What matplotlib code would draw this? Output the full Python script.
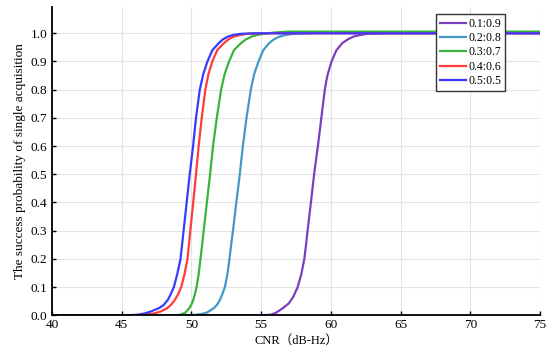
import numpy as np
import matplotlib
matplotlib.use("Agg")
import matplotlib.pyplot as plt

plt.rcParams['font.family'] = ['Liberation Serif', 'Noto Sans CJK SC']

# success probability curves (CNR in dB-Hz)
x_01 = [40, 55.0, 55.7, 56.1, 56.55, 56.98, 57.3, 57.62, 57.88, 58.1, 58.22, 58.33, 58.57, 58.8, 59.07, 59.32,
        59.44, 59.57, 59.67, 59.78, 60.05, 60.4, 60.82, 61.2, 61.6, 62.1, 62.6, 64, 75]
p_01 = [0, 0, 0.002, 0.01, 0.025, 0.042, 0.065, 0.1, 0.145, 0.2, 0.25, 0.3, 0.4, 0.5, 0.6, 0.7,
        0.75, 0.8, 0.83, 0.855, 0.9, 0.94, 0.965, 0.978, 0.988, 0.994, 0.998, 1.0, 1.0]

x_02 = [40, 49.5, 50.3, 50.75, 51.13, 51.6, 51.85, 52.04, 52.22, 52.4, 52.58, 52.73, 52.85, 52.98, 53.22, 53.47,
        53.69, 53.95, 54.26, 54.5, 54.81, 55.15, 55.57, 55.9, 56.3, 56.75, 57.3, 59, 75]
p_02 = [0, 0, 0.002, 0.005, 0.01, 0.025, 0.038, 0.054, 0.075, 0.1, 0.145, 0.2, 0.25, 0.3, 0.4, 0.5,
        0.6, 0.7, 0.8, 0.855, 0.9, 0.94, 0.965, 0.978, 0.988, 0.994, 0.998, 1.002, 1.002]

x_03 = [40, 48.8, 49.2, 49.58, 49.84, 50.0, 50.13, 50.25, 50.37, 50.52, 50.65, 50.77, 50.88, 51.11, 51.34,
        51.55, 51.82, 52.13, 52.38, 52.7, 53.05, 53.55, 53.9, 54.3, 54.7, 55.2, 56, 57, 75]
p_03 = [0, 0, 0.002, 0.01, 0.025, 0.038, 0.054, 0.075, 0.1, 0.145, 0.2, 0.25, 0.3, 0.4, 0.5,
        0.6, 0.7, 0.8, 0.855, 0.9, 0.94, 0.965, 0.978, 0.988, 0.994, 0.998, 1.003, 1.006, 1.006]

x_04 = [40, 46.2, 46.7, 47.25, 47.78, 48.26, 48.55, 48.81, 49.05, 49.27, 49.5, 49.72, 49.82, 49.92, 50.13,
        50.33, 50.52, 50.74, 51.0, 51.22, 51.5, 51.85, 52.33, 52.65, 53.0, 53.5, 54.0, 55.0, 75]
p_04 = [0, 0, 0.002, 0.006, 0.013, 0.025, 0.038, 0.054, 0.075, 0.1, 0.145, 0.2, 0.25, 0.3, 0.4,
        0.5, 0.6, 0.7, 0.8, 0.855, 0.9, 0.94, 0.965, 0.978, 0.988, 0.994, 0.998, 1.0, 1.0]

x_05 = [40, 45.5, 46.1, 46.6, 47.06, 47.66, 48.0, 48.3, 48.52, 48.74, 48.98, 49.22, 49.33, 49.44, 49.66,
        49.88, 50.12, 50.33, 50.6, 50.85, 51.15, 51.5, 51.96, 52.25, 52.6, 53.0, 53.5, 54.5, 75]
p_05 = [0, 0, 0.002, 0.006, 0.013, 0.025, 0.036, 0.054, 0.075, 0.1, 0.145, 0.2, 0.25, 0.3, 0.4,
        0.5, 0.6, 0.7, 0.8, 0.855, 0.9, 0.94, 0.965, 0.978, 0.988, 0.994, 0.998, 1.0, 1.0]

labels = ['0.1:0.9', '0.2:0.8', '0.3:0.7', '0.4:0.6', '0.5:0.5']
colors = ['#7a3fbf', '#4497c8', '#3bb23b', '#ff3b3b', '#3a3aff']
xs = [x_01, x_02, x_03, x_04, x_05]
ps = [p_01, p_02, p_03, p_04, p_05]

fig = plt.figure(figsize=(5.5, 3.53), dpi=100)
ax = fig.add_axes([0.0945, 0.1068, 0.8873, 0.8732])

for x, p, c, lab in zip(xs, ps, colors, labels):
    ax.plot(x, p, color=c, lw=1.6, label=lab, solid_joinstyle='round')

ax.set_xlim(40, 75)
ax.set_ylim(0, 1.093)
ax.set_xticks(np.arange(40, 76, 5))
ax.set_yticks(np.arange(0, 1.01, 0.1))
ax.set_yticklabels(['%.1f' % v for v in np.arange(0, 1.01, 0.1)])
ax.grid(True, color='#e3e3e3', lw=0.8)
ax.set_axisbelow(True)
for s in ['top', 'right']:
    ax.spines[s].set_visible(False)
for s in ['left', 'bottom']:
    ax.spines[s].set_linewidth(1.3)
    ax.spines[s].set_color('black')
ax.tick_params(direction='in', length=3, width=1, labelsize=9.5, colors='black')
ax.tick_params(axis='y', pad=3.5)
ax.tick_params(axis='x', pad=2.5)

ax.set_xlabel('CNR（dB-Hz）', fontsize=9, labelpad=3)
ax.set_ylabel('The success probability of single acquisition', fontsize=9.5, labelpad=3)

leg = ax.legend(loc='upper right', bbox_to_anchor=(0.928, 0.977), borderaxespad=0,
                fontsize=8.5, fancybox=False, framealpha=1, edgecolor='#333333',
                handlelength=2.2, handletextpad=0.2, labelspacing=0.2,
                borderpad=0.3)
leg.get_frame().set_linewidth(1.0)

fig.savefig('out.png', dpi=100)
